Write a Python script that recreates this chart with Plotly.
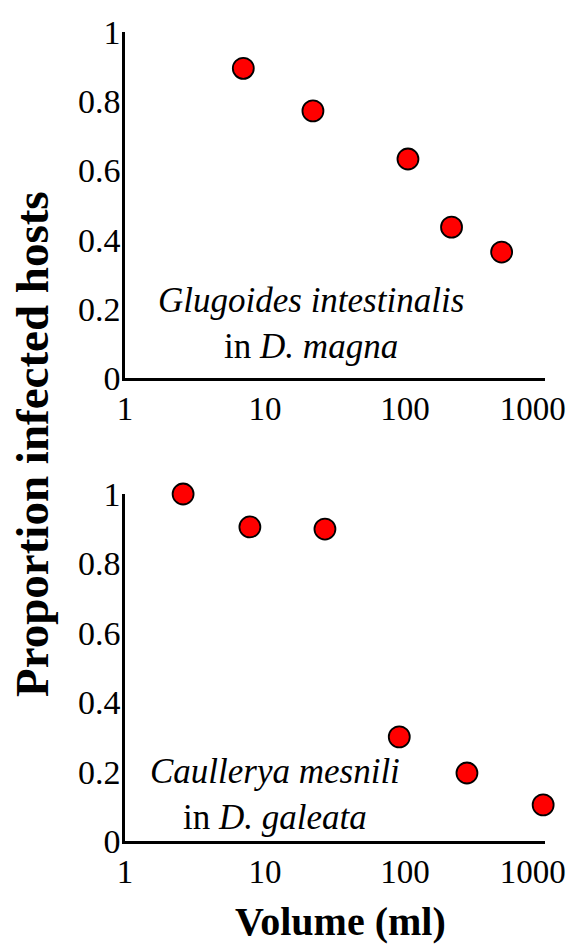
import plotly.graph_objects as go

# Top panel: Glugoides intestinalis in D. magna
vol_top = [7.0, 22.0, 105.0, 215.0, 490.0]
prop_top = [0.895, 0.772, 0.633, 0.436, 0.364]

# Bottom panel: Caullerya mesnili in D. galeata
vol_bot = [2.6, 7.8, 26.8, 91.0, 277.0, 970.0]
prop_bot = [1.0, 0.905, 0.899, 0.30, 0.196, 0.104]

x_ticks = [1, 10, 100, 1000]
x_ticktext = ["1", "10", "100", "1000\u00a0\u00a0\u00a0"]
y_ticks = [0, 0.2, 0.4, 0.6, 0.8, 1]
y_ticktext = ["0", "0.2", "0.4", "0.6", "0.8", "1"]

W, H = 572, 945
FONT = "Liberation Serif, Times New Roman, serif"

def px_x(p):
    return p / W

def px_y(p):
    return 1 - p / H

marker = dict(size=21, color="#ff0000", line=dict(color="black", width=1.8))

fig = go.Figure()
fig.add_trace(go.Scatter(x=vol_top, y=prop_top, mode="markers", marker=marker,
                         xaxis="x", yaxis="y", cliponaxis=False, showlegend=False))
fig.add_trace(go.Scatter(x=vol_bot, y=prop_bot, mode="markers", marker=marker,
                         xaxis="x2", yaxis="y2", cliponaxis=False, showlegend=False))

xdom = [px_x(125), px_x(545)]
xcommon = dict(type="log", range=[0, 3], tickvals=x_ticks, ticktext=x_ticktext,
               showline=True, linecolor="black", linewidth=2.6, showgrid=False,
               zeroline=False, ticks="", tickfont=dict(family=FONT, size=33, color="black"),
               ticklabeloverflow="allow", domain=xdom, automargin=False)
ycommon = dict(range=[0, 1], tickvals=y_ticks, ticktext=y_ticktext,
               showline=True, linecolor="black", linewidth=2.6, showgrid=False,
               zeroline=False, ticks="", tickfont=dict(family=FONT, size=34, color="black"),
               ticklabelstandoff=-5, ticklabeloverflow="allow", automargin=False)

fig.update_layout(
    width=W, height=H,
    margin=dict(l=0, r=0, t=0, b=0),
    paper_bgcolor="white", plot_bgcolor="white",
    xaxis=dict(**xcommon, anchor="y"),
    yaxis=dict(**ycommon, anchor="x", domain=[px_y(378), px_y(32)]),
    xaxis2=dict(**xcommon, anchor="y2"),
    yaxis2=dict(**ycommon, anchor="x2", domain=[px_y(841), px_y(494)]),
    annotations=[
        dict(text="<i>Glugoides intestinalis</i><br>in <i>D. magna</i>",
             x=px_x(311), y=px_y(323), xref="paper", yref="paper",
             showarrow=False, xanchor="center", yanchor="middle",
             font=dict(family=FONT, size=35, color="black")),
        dict(text="<i>Caullerya mesnili</i><br>in <i>D. galeata</i>",
             x=px_x(275), y=px_y(794), xref="paper", yref="paper",
             showarrow=False, xanchor="center", yanchor="middle",
             font=dict(family=FONT, size=35, color="black")),
        dict(text="<b>Proportion infected hosts</b>", textangle=-90,
             x=px_x(32), y=px_y(444), xref="paper", yref="paper",
             showarrow=False, xanchor="center", yanchor="middle",
             font=dict(family=FONT, size=47, color="black")),
        dict(text="<b>Volume (ml)</b>",
             x=px_x(340), y=px_y(921), xref="paper", yref="paper",
             showarrow=False, xanchor="center", yanchor="middle",
             font=dict(family=FONT, size=40, color="black")),
    ],
)

fig.write_html("out.html", config={"displayModeBar": False},
               post_script="document.body.style.margin='0';document.body.style.overflow='hidden';")
